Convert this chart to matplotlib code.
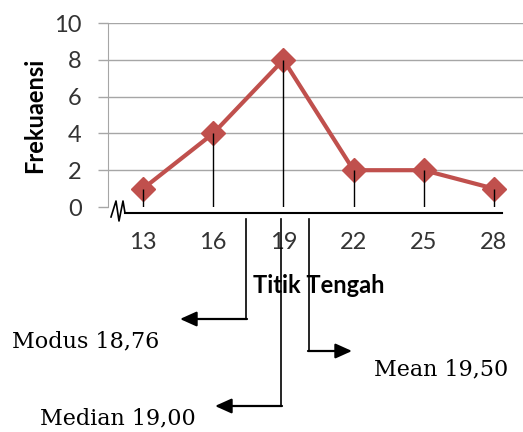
import numpy as np
import matplotlib.pyplot as plt

# data
titik_tengah = ["13", "16", "19", "22", "25", "28"]
frekuensi = [1, 4, 8, 2, 2, 1]
y_ticks = [0, 2, 4, 6, 8, 10]

W, H = 523, 432
fig = plt.figure(figsize=(W / 100, H / 100), dpi=100)

# main chart area (pixel box 108..529 x 23..207)
ax = fig.add_axes([108 / W, 1 - 207 / H, 421 / W, 184 / H])
x = np.arange(len(titik_tengah))
ax.plot(x, frekuensi, color="#C0504D", lw=3, marker="D", ms=12,
        markeredgecolor="#C0504D", zorder=3)
ax.vlines(x, 0, frekuensi, color="black", lw=1, zorder=4)

ax.set_xlim(-0.5, len(titik_tengah) - 0.5)
ax.set_ylim(0, 10)
ax.set_yticks(y_ticks)
ax.set_xticks(x)
ax.set_xticklabels(titik_tengah)
for yv in y_ticks[1:]:
    ax.axhline(yv, color="#A6A6A6", lw=1, zorder=1)

for s in ["top", "right", "bottom"]:
    ax.spines[s].set_visible(False)
ax.spines["left"].set_color("#A6A6A6")
ax.tick_params(axis="y", colors="#A6A6A6", length=7, width=1, pad=12,
               labelcolor="#333333", labelsize=17)
ax.tick_params(axis="x", length=0, pad=18, labelcolor="#333333", labelsize=17)
for lab in ax.get_xticklabels() + ax.get_yticklabels():
    lab.set_family("Lato")

ax.set_xlabel("Titik Tengah", fontsize=17, fontweight="bold", family="Lato",
              labelpad=15)
ax.set_ylabel("Frekuaensi", fontsize=17, fontweight="bold", family="Lato",
              labelpad=6)

# overlay in pixel coordinates for the hand-drawn annotations
ov = fig.add_axes([0, 0, 1, 1], zorder=5)
ov.set_xlim(0, W)
ov.set_ylim(H, 0)
ov.axis("off")
ov.patch.set_alpha(0)

# broken x axis
ov.plot([125, 502], [213, 213], color="black", lw=1.5)
ov.plot([111, 116, 119, 123, 125], [217, 201, 221, 201, 213], color="black", lw=1.2)

arrow = dict(arrowstyle="-|>,head_length=1.0,head_width=0.45", color="black", lw=1.6,
             shrinkA=0, shrinkB=0)
# modus
ov.plot([246, 246], [219, 319], color="black", lw=1.2)
ov.annotate("", xy=(180, 319), xytext=(247, 319), arrowprops=arrow)
ov.text(12, 341, "Modus 18,76", family="DejaVu Serif", fontsize=16, va="center")
# median
ov.plot([281, 281], [219, 406], color="black", lw=1.2)
ov.annotate("", xy=(215, 406), xytext=(282, 406), arrowprops=arrow)
ov.text(40, 418, "Median 19,00", family="DejaVu Serif", fontsize=16, va="center")
# mean
ov.plot([309, 309], [219, 351], color="black", lw=1.2)
ov.annotate("", xy=(352, 351), xytext=(308, 351), arrowprops=arrow)
ov.text(374, 369, "Mean 19,50", family="DejaVu Serif", fontsize=16, va="center")

fig.savefig("out.png", dpi=100)
